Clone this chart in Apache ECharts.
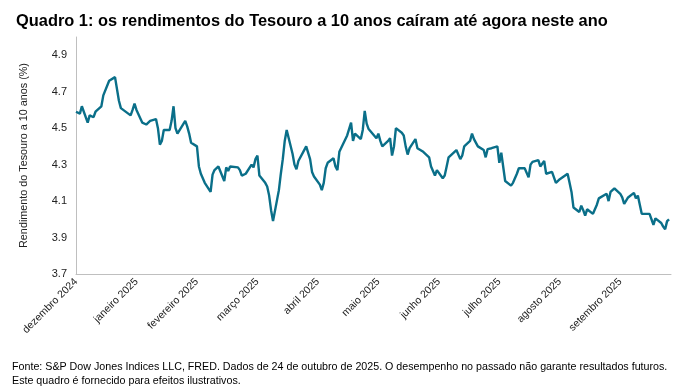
<!DOCTYPE html>
<html><head><meta charset="utf-8">
<script src="https://cdn.jsdelivr.net/npm/echarts@6/dist/echarts.min.js"></script>
<style>
html,body{margin:0;padding:0;background:#fff;}
#chart{width:694px;height:391px;}
</style></head><body><div id="chart"></div>
<script>
const titleText = 'Quadro 1: os rendimentos do Tesouro a 10 anos caíram até agora neste ano';
const yAxisName = 'Rendimento do Tesouro a 10 anos (%)';
const footnoteLines = [
  'Fonte: S&P Dow Jones Indices LLC, FRED. Dados de 24 de outubro de 2025. O desempenho no passado não garante resultados futuros.',
  'Este quadro é fornecido para efeitos ilustrativos.'
];
const tickLabels = ['dezembro 2024','janeiro 2025','fevereiro 2025','março 2025','abril 2025','maio 2025','junho 2025','julho 2025','agosto 2025','setembro 2025'];
const yTickValues = [3.7, 3.9, 4.1, 4.3, 4.5, 4.7, 4.9];

const dates = [
'2024-12-24','2024-12-26','2024-12-27','2024-12-30','2024-12-31',
'2025-01-02','2025-01-03','2025-01-06','2025-01-07','2025-01-08','2025-01-10','2025-01-13','2025-01-14','2025-01-15','2025-01-16','2025-01-17','2025-01-21','2025-01-22','2025-01-23','2025-01-24','2025-01-27','2025-01-28','2025-01-29','2025-01-30','2025-01-31',
'2025-02-03','2025-02-04','2025-02-05','2025-02-06','2025-02-07','2025-02-10','2025-02-11','2025-02-12','2025-02-13','2025-02-14','2025-02-18','2025-02-19','2025-02-20','2025-02-21','2025-02-24','2025-02-25','2025-02-26','2025-02-27','2025-02-28',
'2025-03-03','2025-03-04','2025-03-05','2025-03-06','2025-03-07','2025-03-10','2025-03-11','2025-03-12','2025-03-13','2025-03-14','2025-03-17','2025-03-18','2025-03-19','2025-03-20','2025-03-21','2025-03-24','2025-03-25','2025-03-26','2025-03-27','2025-03-28','2025-03-31',
'2025-04-01','2025-04-02','2025-04-03','2025-04-04','2025-04-07','2025-04-08','2025-04-09','2025-04-10','2025-04-11','2025-04-14','2025-04-15','2025-04-16','2025-04-17','2025-04-21','2025-04-22','2025-04-23','2025-04-24','2025-04-25','2025-04-28','2025-04-29','2025-04-30',
'2025-05-01','2025-05-02','2025-05-05','2025-05-06','2025-05-07','2025-05-08','2025-05-09','2025-05-12','2025-05-13','2025-05-14','2025-05-15','2025-05-16','2025-05-19','2025-05-20','2025-05-21','2025-05-22','2025-05-23','2025-05-27','2025-05-28','2025-05-29','2025-05-30',
'2025-06-02','2025-06-03','2025-06-04','2025-06-05','2025-06-06','2025-06-09','2025-06-10','2025-06-11','2025-06-12','2025-06-13','2025-06-16','2025-06-17','2025-06-18','2025-06-20','2025-06-23','2025-06-24','2025-06-25','2025-06-26','2025-06-27','2025-06-30',
'2025-07-01','2025-07-02','2025-07-03','2025-07-07','2025-07-08','2025-07-09','2025-07-10','2025-07-11','2025-07-14','2025-07-15','2025-07-16','2025-07-17','2025-07-18','2025-07-21','2025-07-22','2025-07-23','2025-07-24','2025-07-25','2025-07-28','2025-07-29','2025-07-30','2025-07-31',
'2025-08-01','2025-08-04','2025-08-05','2025-08-06','2025-08-07','2025-08-08','2025-08-11','2025-08-12','2025-08-13','2025-08-14','2025-08-15','2025-08-18','2025-08-19','2025-08-20','2025-08-21','2025-08-22','2025-08-25','2025-08-26','2025-08-27','2025-08-28','2025-08-29',
'2025-09-02','2025-09-03','2025-09-04','2025-09-05','2025-09-08','2025-09-09','2025-09-10','2025-09-11','2025-09-12','2025-09-15','2025-09-16','2025-09-17','2025-09-18','2025-09-19','2025-09-22','2025-09-23','2025-09-24','2025-09-25','2025-09-26','2025-09-29','2025-09-30',
'2025-10-01','2025-10-02','2025-10-03','2025-10-06','2025-10-07','2025-10-08','2025-10-09','2025-10-10','2025-10-14','2025-10-15','2025-10-16','2025-10-17','2025-10-20','2025-10-21','2025-10-22','2025-10-23','2025-10-24'
];

const yields = [
4.59,4.58,4.62,4.53,4.57,
4.56,4.59,4.62,4.68,4.69,4.76,4.78,4.79,4.65,4.61,4.62,4.57,4.60,4.635,4.60,4.53,4.53,4.52,4.51,4.54,
4.55,4.50,4.41,4.43,4.49,4.49,4.54,4.62,4.50,4.47,4.54,4.51,4.47,4.42,4.40,4.29,4.25,4.25,4.20,
4.15,4.245,4.27,4.28,4.29,4.21,4.285,4.265,4.29,4.30,4.285,4.27,4.24,4.237,4.25,4.30,4.285,4.33,4.35,4.24,4.20,
4.18,4.13,4.05,3.99,4.16,4.25,4.33,4.43,4.49,4.36,4.30,4.275,4.32,4.40,4.395,4.33,4.26,4.235,4.19,4.16,4.20,
4.28,4.31,4.335,4.29,4.27,4.37,4.38,4.46,4.465,4.53,4.43,4.47,4.44,4.49,4.595,4.525,4.495,4.445,4.47,4.43,4.40,
4.43,4.445,4.35,4.40,4.50,4.475,4.46,4.40,4.355,4.39,4.44,4.39,4.39,4.37,4.34,4.29,4.285,4.24,4.27,4.225,
4.24,4.29,4.34,4.38,4.39,4.33,4.35,4.40,4.43,4.47,4.44,4.43,4.40,4.38,4.34,4.385,4.39,4.39,4.40,4.31,4.365,4.37,
4.21,4.185,4.20,4.225,4.25,4.28,4.28,4.28,4.23,4.30,4.315,4.325,4.29,4.30,4.32,4.25,4.26,4.25,4.20,4.21,4.22,
4.25,4.20,4.15,4.065,4.04,4.075,4.05,4.02,4.055,4.03,4.023,4.08,4.115,4.125,4.14,4.10,4.15,4.16,4.17,4.14,4.12,
4.085,4.09,4.12,4.145,4.115,4.13,4.135,4.03,4.03,4.02,3.97,4.005,3.98,3.96,3.945,3.99,4.00
];

const DAY = 86400000;
const toTime = (s) => { const p = s.split('-').map(Number); return Date.UTC(p[0], p[1] - 1, p[2]); };
const axisStart = toTime('2024-12-24');
const axisEnd = toTime('2025-10-25');
const tickStepDays = 31;
const xTickValues = tickLabels.map((_, i) => axisStart + i * tickStepDays * DAY);

const seriesData = dates.map((d, i) => [toTime(d), yields[i]]);

const chart = echarts.init(document.getElementById('chart'), null, {renderer: 'canvas'});
const FONT = 'Liberation Sans, Arial, sans-serif';
chart.setOption({
  animation: false,
  backgroundColor: '#ffffff',
  textStyle: {fontFamily: FONT},
  title: {
    text: titleText, left: 11, top: 8,
    textStyle: {fontSize: 16.4, fontWeight: 'bold', color: '#000', fontFamily: FONT}
  },
  graphic: footnoteLines.map((t, i) => ({
    type: 'text', left: 12, top: 362 + i * 14,
    style: {text: t, fontSize: 10.7, fill: '#000', fontFamily: FONT}
  })),
  grid: {left: 76, right: 23, top: 37, bottom: 117, containLabel: false},
  xAxis: {
    type: 'value', min: axisStart, max: axisEnd,
    axisLine: {show: true, onZero: false, lineStyle: {color: '#bfbfbf', width: 1}},
    axisTick: {show: false},
    splitLine: {show: false},
    axisLabel: {
      customValues: xTickValues,
      rotate: 45, margin: 6, fontSize: 10.5, color: '#222', fontFamily: FONT,
      formatter: (v) => {
        const i = Math.round((v - axisStart) / (tickStepDays * DAY));
        return tickLabels[i] || '';
      }
    }
  },
  yAxis: {
    type: 'value', min: 3.7, max: 5.0,
    name: yAxisName, nameLocation: 'middle', nameGap: 46, nameRotate: 90,
    nameTextStyle: {fontSize: 10.8, color: '#222', fontFamily: FONT},
    axisLine: {show: true, lineStyle: {color: '#bfbfbf', width: 1}},
    axisTick: {show: false},
    splitLine: {show: false},
    axisLabel: {
      customValues: yTickValues,
      fontSize: 11, color: '#222', margin: 9, fontFamily: FONT,
      formatter: (v) => v.toFixed(1)
    }
  },
  series: [{
    type: 'line', data: seriesData, showSymbol: false, symbol: 'none',
    lineStyle: {color: '#0a6f89', width: 2.4},
    itemStyle: {color: '#0a6f89'}
  }]
});
</script></body></html>
